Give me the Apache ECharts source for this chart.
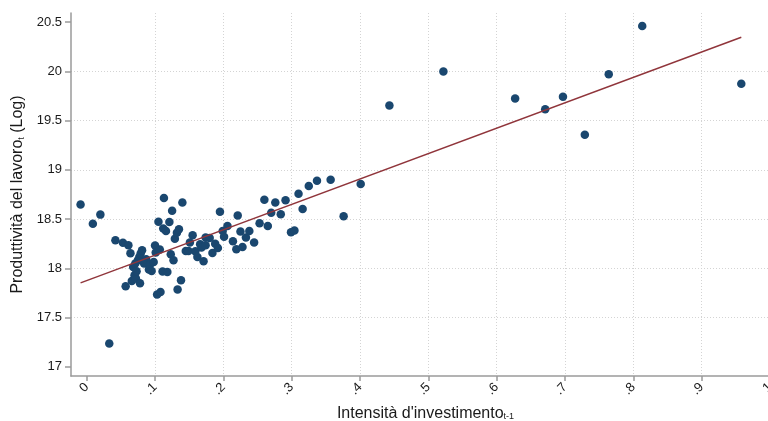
<!DOCTYPE html>
<html>
<head>
<meta charset="utf-8">
<script src="https://cdn.jsdelivr.net/npm/echarts@6/dist/echarts.min.js"></script>
<style>
html,body{margin:0;padding:0;background:#fff;}
#chart{width:768px;height:421px;}
</style>
</head>
<body>
<div id="chart"></div>
<script>
// ---- data ----
const investIntensity = [
 -0.009, 0.009, 0.020, 0.033, 0.042, 0.053, 0.061, 0.057, 0.064, 0.066,
 0.068, 0.070, 0.071, 0.072, 0.073, 0.075, 0.077, 0.078, 0.079, 0.081,
 0.084, 0.087, 0.091, 0.093, 0.095, 0.098, 0.100, 0.101, 0.105, 0.103,
 0.108, 0.107, 0.111, 0.113, 0.112, 0.116, 0.118, 0.121, 0.123, 0.125,
 0.127, 0.129, 0.132, 0.133, 0.135, 0.138, 0.140, 0.145, 0.149, 0.151,
 0.155, 0.159, 0.162, 0.166, 0.168, 0.171, 0.174, 0.174, 0.180, 0.184,
 0.188, 0.192, 0.195, 0.199, 0.201, 0.206, 0.214, 0.219, 0.221, 0.225,
 0.228, 0.233, 0.238, 0.245, 0.253, 0.260, 0.265, 0.270, 0.276, 0.284,
 0.291, 0.299, 0.304, 0.310, 0.316, 0.325, 0.337, 0.357, 0.376, 0.401,
 0.443, 0.522, 0.627, 0.671, 0.697, 0.729, 0.764, 0.813, 0.958
];
const laborProductivity = [
 18.647, 18.452, 18.545, 17.235, 18.284, 18.259, 18.234, 17.817, 18.152, 17.871,
 18.013, 17.929, 18.048, 17.895, 17.970, 18.081, 18.115, 17.848, 18.149, 18.183,
 18.048, 18.091, 17.987, 18.041, 17.973, 18.064, 18.230, 18.160, 18.472, 17.733,
 17.759, 18.190, 17.966, 18.714, 18.403, 18.379, 17.962, 18.470, 18.142, 18.584,
 18.081, 18.301, 18.362, 17.784, 18.396, 17.878, 18.667, 18.176, 18.176, 18.261,
 18.335, 18.173, 18.115, 18.244, 18.210, 18.071, 18.312, 18.234, 18.308, 18.155,
 18.250, 18.206, 18.574, 18.379, 18.320, 18.430, 18.274, 18.193, 18.535, 18.373,
 18.216, 18.312, 18.379, 18.261, 18.457, 18.697, 18.430, 18.563, 18.667, 18.548,
 18.690, 18.365, 18.383, 18.756, 18.602, 18.836, 18.890, 18.900, 18.528, 18.855,
 19.655, 19.999, 19.725, 19.617, 19.742, 19.356, 19.972, 20.462, 19.874
];
// fitted line endpoints
const fitX = [-0.009, 0.958];
const fitY = [17.851, 20.348];

const xTicks = [0, 0.1, 0.2, 0.3, 0.4, 0.5, 0.6, 0.7, 0.8, 0.9, 1];
const xTickLabels = ['0', '.1', '.2', '.3', '.4', '.5', '.6', '.7', '.8', '.9', '1'];
const yTicks = [17, 17.5, 18, 18.5, 19, 19.5, 20, 20.5];
const yTickLabels = ['17', '17.5', '18', '18.5', '19', '19.5', '20', '20.5'];

const xTitle = "Intensità d'investimento";
const xTitleSub = 't-1';
const yTitle = 'Produttività del lavoro';
const yTitleSub = 't';
const yTitleTail = ' (Log)';

// ---- build chart ----
const points = investIntensity.map((x, i) => [x, laborProductivity[i]]);
const fitLine = fitX.map((x, i) => [x, fitY[i]]);

function labelFor(ticks, labels) {
  return function (v) {
    for (let i = 0; i < ticks.length; i++) {
      if (Math.abs(v - ticks[i]) < 1e-6) return labels[i];
    }
    return '';
  };
}

const FONT = "'Liberation Sans', Arial, sans-serif";
const TXT = '#1a1a1a';
const AX = '#9a9a9a';
const GRIDC = '#d4d4d4';

const titleRich = {
  m: {fontSize: 16, color: TXT, fontFamily: FONT, lineHeight: 18, verticalAlign: 'bottom'},
  s: {fontSize: 9, color: TXT, fontFamily: FONT, lineHeight: 12, verticalAlign: 'bottom', padding: [8, 0, 0, 0]}
};

const chart = echarts.init(document.getElementById('chart'), null, {renderer: 'canvas'});
chart.setOption({
  animation: false,
  backgroundColor: '#ffffff',
  textStyle: {fontFamily: FONT},
  grid: {left: 71, right: -2, top: 13, bottom: 45, containLabel: false, outerBoundsMode: 'none'},
  xAxis: {
    type: 'value',
    min: -0.023, max: 1,
    splitNumber: 10,
    name: '{m|' + xTitle + '}{s|' + xTitleSub + '}',
    nameLocation: 'middle',
    nameGap: 27,
    nameTextStyle: {rich: titleRich, padding: [0, 0, 0, 10]},
    axisLine: {show: true, onZero: false, lineStyle: {color: AX, width: 1.5}},
    axisTick: {show: true, length: 5, lineStyle: {color: AX, width: 1.5}, customValues: xTicks},
    axisLabel: {
      rotate: 45, margin: 9, fontSize: 13, color: TXT, fontFamily: FONT,
      customValues: xTicks,
      formatter: labelFor(xTicks, xTickLabels)
    },
    splitLine: {show: true, showMinLine: false, showMaxLine: false, lineStyle: {color: GRIDC, width: 1, type: [1, 2]}}
  },
  yAxis: {
    type: 'value',
    min: 16.905, max: 20.594,
    splitNumber: 7,
    name: '{m|' + yTitle + '}{s|' + yTitleSub + '}{m|' + yTitleTail + '}',
    nameLocation: 'middle',
    nameRotate: 90,
    nameGap: 42,
    nameTextStyle: {rich: titleRich},
    axisLine: {show: true, onZero: false, lineStyle: {color: AX, width: 1.5}},
    axisTick: {show: true, length: 6, lineStyle: {color: AX, width: 1.5}, customValues: yTicks},
    axisLabel: {
      margin: 9, fontSize: 13, color: TXT, fontFamily: FONT,
      customValues: yTicks,
      formatter: labelFor(yTicks, yTickLabels)
    },
    splitLine: {show: true, showMinLine: false, showMaxLine: false, lineStyle: {color: GRIDC, width: 1, type: [1, 2]}}
  },
  series: [
    {
      type: 'scatter',
      data: points,
      symbol: 'circle',
      symbolSize: 8.5,
      itemStyle: {color: '#1a476f', opacity: 1},
      z: 2
    },
    {
      type: 'line',
      data: fitLine,
      showSymbol: false,
      symbol: 'none',
      lineStyle: {color: '#90353b', width: 1.5},
      z: 3
    }
  ]
});
</script>
</body>
</html>
